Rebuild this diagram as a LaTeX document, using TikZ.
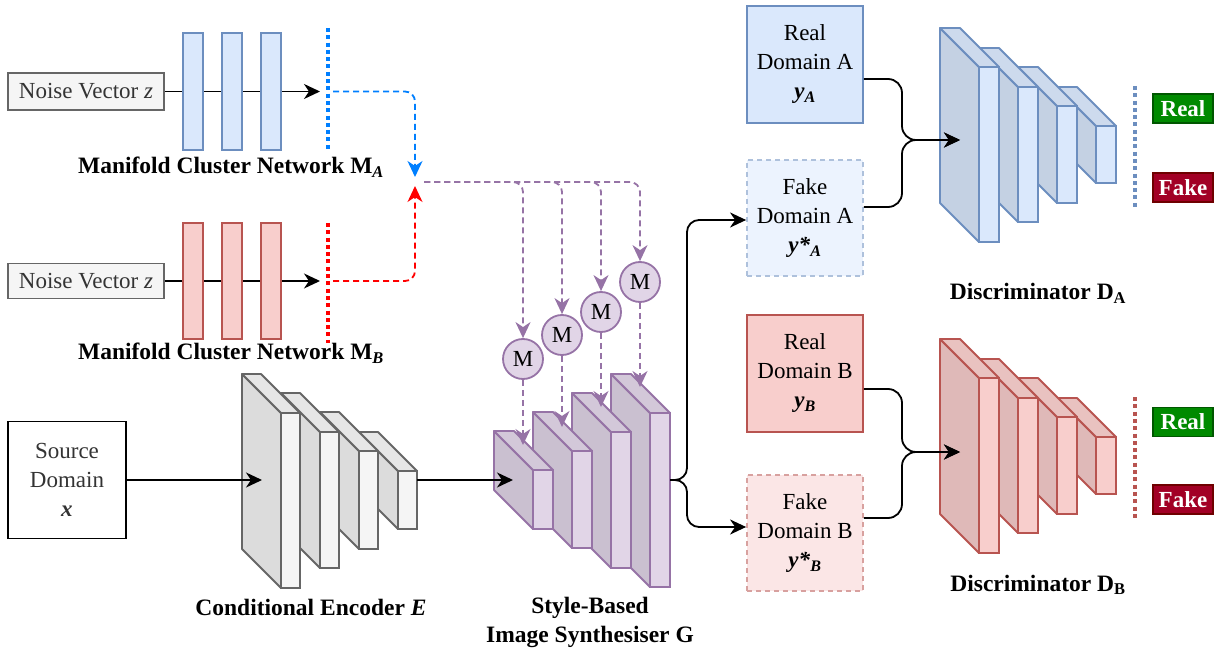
\documentclass[tikz,border=0pt]{standalone}
\usepackage{fontspec}
\setmainfont{Liberation Serif}
\usetikzlibrary{arrows.meta,calc}

\definecolor{grayfill}{HTML}{F5F5F5}
\definecolor{grayline}{HTML}{666666}
\definecolor{bluefill}{HTML}{DAE8FC}
\definecolor{blueline}{HTML}{6C8EBF}
\definecolor{redfill}{HTML}{F8CECC}
\definecolor{redline}{HTML}{B85450}
\definecolor{purfill}{HTML}{E1D5E7}
\definecolor{purline}{HTML}{9673A6}
\definecolor{textgray}{HTML}{333333}
\definecolor{azure}{HTML}{007FFF}
\definecolor{brightred}{HTML}{FF0000}
\definecolor{taggreen}{HTML}{008A00}
\definecolor{taggreenline}{HTML}{005700}
\definecolor{tagred}{HTML}{A20025}
\definecolor{tagredline}{HTML}{6F0000}

\tikzset{
  thickline/.style={line width=1.8pt},
  headtip/.style={-{Stealth[length=16pt,width=15pt,inset=5pt]}},
  flowarrow/.style={thickline, headtip, black},
  dashlink/.style={thickline, headtip, dash pattern=on 6pt off 4pt, rounded corners=10pt},
  dotbar/.style={line width=4.5pt, dash pattern=on 4pt off 3.3pt},
  layerbar/.style={thickline, minimum width=20, minimum height=117, inner sep=0},
  databox/.style={thickline, minimum width=116, minimum height=117, inner sep=0, align=center},
  tagbox/.style={thickline, minimum width=60, minimum height=29, inner sep=0, text=white,
    font=\fontsize{23}{26}\selectfont\bfseries},
  capt/.style={font=\fontsize{23.5}{29}\selectfont\bfseries, align=center, inner sep=0},
  modnode/.style={circle, thickline, draw=purline, fill=purfill, minimum size=40, inner sep=0},
}

% 3D layer slab: side face, top face and a named front face
% #1 name, #2 front left x, #3 front top y, #4 front bottom y, #5 front width, #6 colour prefix
\newcommand{\drawslab}[6]{%
  \filldraw[thickline, line join=round, draw=#6line, fill=#6fill!90!black]
    (#2,#3) -- ({#2-39},{#3-39}) -- ({#2-39},{#4-39}) -- (#2,#4) -- cycle;
  \filldraw[thickline, line join=round, draw=#6line, fill=#6fill!94!black]
    (#2,#3) -- ({#2-39},{#3-39}) -- ({#2-39+#5},{#3-39}) -- ({#2+#5},#3) -- cycle;
  \node[thickline, draw=#6line, fill=#6fill, minimum width=#5, minimum height={#4-#3},
    anchor=north west, inner sep=0, outer sep=0] (#1) at (#2,#3) {};
}

\begin{document}
\begin{tikzpicture}[x=1pt,y=-1pt,font=\fontsize{23}{29}\selectfont]
\useasboundingbox (0,0) rectangle (1218,652);

% ---------- manifold cluster network A ----------
\node[thickline, draw=grayline, fill=grayfill, text=textgray, minimum width=156,
  minimum height=37, inner sep=0] (noiseA) at (86,91.5) {Noise Vector \textit{z}};
\coordinate (tipA) at (320,91.5);
\draw[flowarrow] (noiseA.east) -- (tipA);
\foreach \i/\x in {1/193,2/232,3/271}
  \node[layerbar, draw=blueline, fill=bluefill] (mA\i) at (\x,91.5) {};
\draw[dotbar, azure] (328,28) -- (328,150);
\coordinate (outA) at (333,91.5);
\node[capt] (labA) at (231,167) {Manifold Cluster Network M\textsubscript{\textit{A}}};

% ---------- manifold cluster network B ----------
\node[thickline, draw=grayline, fill=grayfill, text=textgray, minimum width=156,
  minimum height=35, inner sep=0] (noiseB) at (86,281) {Noise Vector \textit{z}};
\coordinate (tipB) at (320,281);
\draw[flowarrow] (noiseB.east) -- (tipB);
\foreach \i/\x in {1/193,2/232,3/271}
  \node[layerbar, draw=redline, fill=redfill, minimum height=116] (mB\i) at (\x,281) {};
\draw[dotbar, brightred] (328,223) -- (328,343);
\coordinate (outB) at (333,281);
\node[capt] (labB) at (231,353) {Manifold Cluster Network M\textsubscript{\textit{B}}};

% ---------- style codes feeding the modulation units ----------
\coordinate (hubA) at (415,177);
\coordinate (hubB) at (415,186);
\coordinate (hub) at (424,182);
\draw[dashlink, azure] (outA) -| (hubA);
\draw[dashlink, brightred] (outB) -| (hubB);

\node[modnode] (m1) at (523,359) {M};
\node[modnode] (m2) at (562,335) {M};
\node[modnode] (m3) at (601,312) {M};
\node[modnode] (m4) at (640,282) {M};
\foreach \k in {1,...,4}
  \draw[dashlink, purline] (hub) -| (m\k.north);

% ---------- style-based image synthesiser ----------
\drawslab{g4}{650}{413}{587}{20}{pur}
\drawslab{g3}{611}{432}{568}{20}{pur}
\drawslab{g2}{572}{451}{548}{20}{pur}
\drawslab{g1}{533}{470}{529}{20}{pur}
\coordinate (g1in) at (523,445);
\coordinate (g2in) at (562,427);
\coordinate (g3in) at (601,407);
\coordinate (g4in) at (640,387);
\foreach \k in {1,...,4}
  \draw[dashlink, purline] (m\k.south) -- (g\k in);
\node[capt] (labG) at (590,622) {Style-Based\\Image Synthesiser G};

% ---------- conditional encoder ----------
\drawslab{e4}{398}{471}{529}{19}{gray}
\drawslab{e3}{359}{451}{549}{19}{gray}
\drawslab{e2}{320}{432}{568}{19}{gray}
\drawslab{e1}{281}{413}{588}{19}{gray}
\node[capt] (labE) at (311,607) {Conditional Encoder \textit{E}};

\node[databox, draw=black, fill=white, text=textgray, minimum width=118] (src)
  at (67,480) {Source\\Domain\\\textbf{\textit{x}}};
\coordinate (encin) at (262,480);
\draw[flowarrow] (src.east) -- (encin);
\coordinate (synin) at (513,480);
\draw[flowarrow] (e4.east |- src.east) -- (synin);

% ---------- domain samples ----------
\node[databox, draw=blueline, fill=bluefill] (realA) at (805,64.5)
  {Real\\Domain A\\\textbf{\textit{y}\textsubscript{\textit{A}}}};
\node[databox, draw=blueline!55!white, fill=bluefill!50!white, dash pattern=on 5pt off 4pt,
  minimum height=116] (fakeA) at (805,218)
  {Fake\\Domain A\\\textbf{\textit{y*}\textsubscript{\textit{A}}}};
\node[databox, draw=redline, fill=redfill] (realB) at (805,373.5)
  {Real\\Domain B\\\textbf{\textit{y}\textsubscript{\textit{B}}}};
\node[databox, draw=redline!55!white, fill=redfill!50!white, dash pattern=on 5pt off 4pt,
  minimum height=116] (fakeB) at (805,533)
  {Fake\\Domain B\\\textbf{\textit{y*}\textsubscript{\textit{B}}}};

\draw[flowarrow, rounded corners=12pt] (g4.east |- src.east) -- (687,480) -- (687,220)
  -- ($(fakeA.west)+(0,2)$);
\draw[flowarrow, rounded corners=12pt] (g4.east |- src.east) -- (687,480) -- (687,527)
  -- ($(fakeB.west)+(0,-6)$);

% ---------- discriminator A ----------
\drawslab{da4}{1096}{126}{183}{20}{blue}
\drawslab{da3}{1057}{106}{203}{20}{blue}
\drawslab{da2}{1018}{87}{222}{20}{blue}
\drawslab{da1}{979}{67}{242}{20}{blue}
\coordinate (dAin) at (960,140);
\draw[flowarrow, rounded corners=14pt] ($(realA.east)+(0,14.5)$) -- (902,79) -- (902,140) -- (dAin);
\draw[flowarrow, rounded corners=14pt] ($(fakeA.east)+(0,-11)$) -- (902,207) -- (902,140) -- (dAin);
\draw[dotbar, blueline] (1135,86) -- (1135,207);
\node[tagbox, draw=taggreenline, fill=taggreen] (realtagA) at (1183,108.5) {Real};
\node[tagbox, draw=tagredline, fill=tagred] (faketagA) at (1183,187.5) {Fake};
\node[capt] (labDA) at (1038,293) {Discriminator D\textsubscript{A}};

% ---------- discriminator B ----------
\drawslab{db4}{1096}{437}{494}{20}{red}
\drawslab{db3}{1057}{417}{514}{20}{red}
\drawslab{db2}{1018}{398}{533}{20}{red}
\drawslab{db1}{979}{378}{553}{20}{red}
\coordinate (dBin) at (960,452);
\draw[flowarrow, rounded corners=14pt] ($(realB.east)+(0,15.5)$) -- (902,389) -- (902,452) -- (dBin);
\draw[flowarrow, rounded corners=14pt] ($(fakeB.east)+(0,-15)$) -- (902,518) -- (902,452) -- (dBin);
\draw[dotbar, redline] (1135,397) -- (1135,518);
\node[tagbox, draw=taggreenline, fill=taggreen] (realtagB) at (1183,422) {Real};
\node[tagbox, draw=tagredline, fill=tagred] (faketagB) at (1183,499.5) {Fake};
\node[capt] (labDB) at (1038,585) {Discriminator D\textsubscript{B}};

\end{tikzpicture}
\end{document}
